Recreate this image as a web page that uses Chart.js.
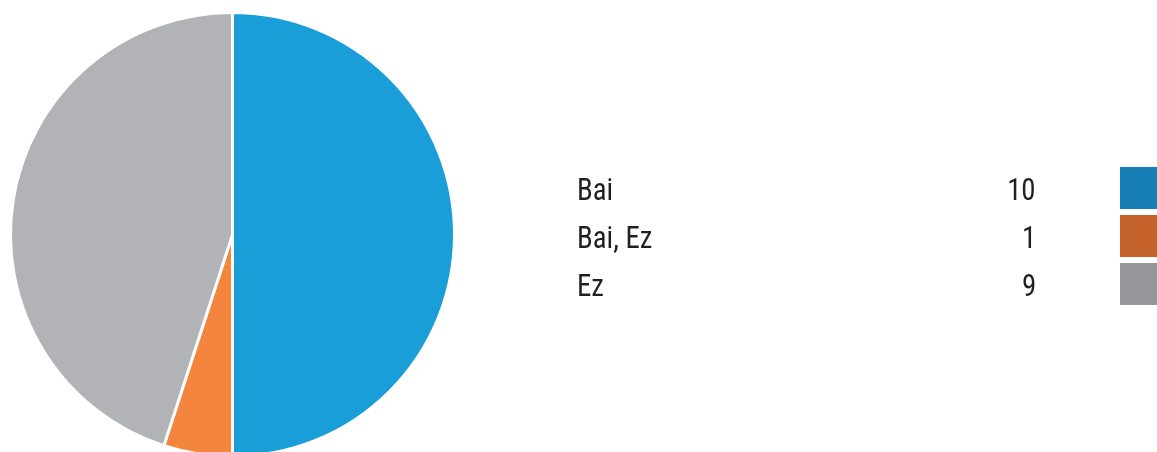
<!DOCTYPE html>
<html>
<head>
<meta charset="utf-8">
<script src="https://cdn.jsdelivr.net/npm/chart.js@4.4.1/dist/chart.umd.min.js"></script>
<style>
  html, body { margin: 0; padding: 0; background: #fff; }
  #wrap { position: relative; width: 1157px; height: 452px; overflow: hidden; }
  #box { position: absolute; left: 0; top: 0; width: 1157px; height: 472px; }
  .row { position: absolute; left: 0; width: 1157px; height: 42px;
         font-family: "Liberation Sans Narrow", "Roboto Condensed", Roboto, sans-serif;
         font-size: 31px; color: #231f20; }
  .row span { position: absolute; top: 2px; line-height: 42px; }
  .row .lbl { left: 577px; transform: scaleX(0.93); transform-origin: left center; }
  .row .val { right: 121px; text-align: right; transform: scaleX(0.93); transform-origin: right center; }
  .row .sw { left: 1120px; top: 0; width: 40px; height: 42px; }
</style>
</head>
<body>
<div id="wrap">
  <div id="box"><canvas id="pieChart"></canvas></div>
  <div id="legend"></div>
</div>
<script>
const labels = ['Bai', 'Bai, Ez', 'Ez'];
const counts = [10, 1, 9];
const sliceColors = ['#199ed8', '#f4853e', '#b2b3b7'];
const keyColors = ['#177fb5', '#c5612b', '#96979b'];

// legend on the right, built from the same arrays
const legend = document.getElementById('legend');
const rowTops = [167, 215, 263];
labels.forEach((name, i) => {
  const row = document.createElement('div');
  row.className = 'row';
  row.style.top = rowTops[i] + 'px';
  row.innerHTML = '<span class="lbl">' + name + '</span>' +
    '<span class="val">' + counts[i] + '</span>' +
    '<span class="sw" style="background:' + keyColors[i] + '"></span>';
  legend.appendChild(row);
});

const data = {
  labels: labels,
  datasets: [
    {
      data: counts,
      backgroundColor: sliceColors,
      borderColor: '#ffffff',
      borderWidth: 3,
    },
  ],
};

const config = {
  type: 'pie',
  data: data,
  options: {
    responsive: true,
    maintainAspectRatio: false,
    animation: false,
    layout: {
      padding: { left: 9, right: 701, top: 11, bottom: 14 },
    },
    plugins: {
      legend: { display: false },
      tooltip: { enabled: false },
    },
  },
};

const pieChart = new Chart(document.getElementById('pieChart'), config);
</script>
</body>
</html>
